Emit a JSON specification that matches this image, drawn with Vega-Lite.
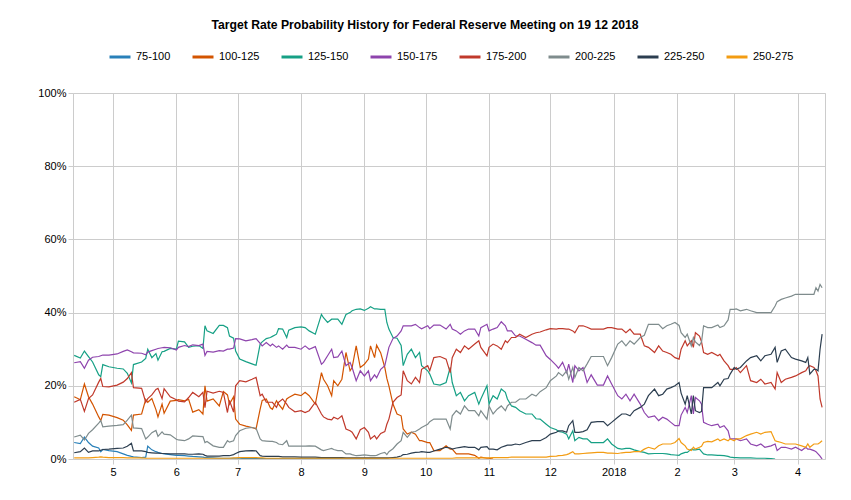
{
  "$schema": "https://vega.github.io/schema/vega-lite/v6.json",
  "width": 752,
  "height": 366,
  "autosize": {"type": "none"},
  "padding": {"left": 73, "top": 93, "right": 26, "bottom": 41},
  "background": "white",
  "title": {
    "text": "Target Rate Probability History for Federal Reserve Meeting on 19 12 2018",
    "font": "Liberation Sans",
    "fontSize": 12.2,
    "fontWeight": "bold",
    "color": "#000000",
    "anchor": "middle",
    "frame": "group",
    "dx": -24,
    "offset": 14
  },
  "data": {
    "values": [
      {"date":"2017-04-12","75-100":4.5,"100-125":17.0,"125-150":28.3,"150-175":26.3,"175-200":15.5,"200-225":6.0,"225-250":1.7,"250-275":0.3},
      {"date":"2017-04-15","75-100":4.2,"100-125":16.2,"125-150":27.6,"150-175":26.6,"175-200":16.3,"200-225":6.5,"225-250":2.0,"250-275":0.3},
      {"date":"2017-04-17","75-100":6.0,"100-125":20.5,"125-150":29.5,"150-175":24.8,"175-200":13.0,"200-225":5.2,"225-250":3.0,"250-275":0.3},
      {"date":"2017-04-19","75-100":4.5,"100-125":17.0,"125-150":28.0,"150-175":27.0,"175-200":16.5,"200-225":7.0,"225-250":1.8,"250-275":0.3},
      {"date":"2017-04-21","75-100":3.5,"100-125":15.0,"125-150":26.5,"150-175":27.8,"175-200":17.5,"200-225":8.0,"225-250":2.2,"250-275":0.4},
      {"date":"2017-04-24","75-100":3.0,"100-125":11.5,"125-150":23.0,"150-175":28.0,"175-200":21.0,"200-225":9.8,"225-250":2.2,"250-275":0.5},
      {"date":"2017-04-25","75-100":2.0,"100-125":10.5,"125-150":22.5,"150-175":28.2,"175-200":22.0,"200-225":10.5,"225-250":2.4,"250-275":0.6},
      {"date":"2017-04-26","75-100":2.6,"100-125":12.2,"125-150":25.8,"150-175":28.4,"175-200":19.8,"200-225":8.8,"225-250":2.6,"250-275":0.5},
      {"date":"2017-04-29","75-100":2.3,"100-125":12.0,"125-150":25.2,"150-175":28.4,"175-200":19.7,"200-225":9.0,"225-250":2.7,"250-275":0.4},
      {"date":"2017-05-03","75-100":2.0,"100-125":11.3,"125-150":24.8,"150-175":28.7,"175-200":20.2,"200-225":9.2,"225-250":2.9,"250-275":0.4},
      {"date":"2017-05-06","75-100":1.4,"100-125":10.6,"125-150":24.6,"150-175":29.4,"175-200":21.0,"200-225":9.4,"225-250":3.0,"250-275":0.4},
      {"date":"2017-05-08","75-100":1.0,"100-125":9.3,"125-150":23.4,"150-175":29.8,"175-200":22.0,"200-225":10.6,"225-250":3.5,"250-275":0.3},
      {"date":"2017-05-10","75-100":0.7,"100-125":7.8,"125-150":20.8,"150-175":29.3,"175-200":23.6,"200-225":12.0,"225-250":4.3,"250-275":0.3},
      {"date":"2017-05-11","75-100":0.6,"100-125":12.0,"125-150":25.8,"150-175":29.0,"175-200":19.5,"200-225":8.5,"225-250":2.2,"250-275":0.3},
      {"date":"2017-05-15","75-100":0.4,"100-125":12.3,"125-150":26.5,"150-175":28.9,"175-200":19.3,"200-225":8.3,"225-250":2.2,"250-275":0.3},
      {"date":"2017-05-17","75-100":0.5,"100-125":16.3,"125-150":27.5,"150-175":28.5,"175-200":15.5,"200-225":5.5,"225-250":2.0,"250-275":0.2},
      {"date":"2017-05-18","75-100":3.5,"100-125":15.5,"125-150":30.0,"150-175":29.2,"175-200":16.5,"200-225":6.0,"225-250":1.8,"250-275":0.2},
      {"date":"2017-05-20","75-100":2.5,"100-125":16.5,"125-150":27.7,"150-175":29.6,"175-200":17.5,"200-225":7.2,"225-250":1.7,"250-275":0.2},
      {"date":"2017-05-22","75-100":2.0,"100-125":13.5,"125-150":28.8,"150-175":30.0,"175-200":19.0,"200-225":7.8,"225-250":1.6,"250-275":0.2},
      {"date":"2017-05-23","75-100":1.8,"100-125":11.5,"125-150":27.0,"150-175":30.2,"175-200":19.3,"200-225":6.2,"225-250":1.6,"250-275":0.2},
      {"date":"2017-05-25","75-100":1.5,"100-125":15.0,"125-150":29.3,"150-175":30.4,"175-200":16.5,"200-225":7.4,"225-250":1.5,"250-275":0.2},
      {"date":"2017-05-26","75-100":1.4,"100-125":12.5,"125-150":29.4,"150-175":30.5,"175-200":19.2,"200-225":6.8,"225-250":1.5,"250-275":0.2},
      {"date":"2017-05-29","75-100":1.2,"100-125":15.8,"125-150":30.2,"150-175":30.4,"175-200":17.0,"200-225":6.6,"225-250":1.4,"250-275":0.2},
      {"date":"2017-06-01","75-100":1.0,"100-125":16.0,"125-150":30.0,"150-175":29.8,"175-200":16.2,"200-225":5.4,"225-250":1.4,"250-275":0.2},
      {"date":"2017-06-02","75-100":1.0,"100-125":16.2,"125-150":32.2,"150-175":30.5,"175-200":15.8,"200-225":5.2,"225-250":1.4,"250-275":0.2},
      {"date":"2017-06-05","75-100":0.9,"100-125":15.9,"125-150":32.0,"150-175":31.0,"175-200":15.6,"200-225":5.0,"225-250":1.4,"250-275":0.2},
      {"date":"2017-06-07","75-100":0.8,"100-125":16.3,"125-150":30.5,"150-175":30.7,"175-200":16.8,"200-225":5.5,"225-250":1.3,"250-275":0.2},
      {"date":"2017-06-09","75-100":0.7,"100-125":12.8,"125-150":30.8,"150-175":31.2,"175-200":18.2,"200-225":6.3,"225-250":1.3,"250-275":0.2},
      {"date":"2017-06-12","75-100":0.6,"100-125":13.5,"125-150":31.0,"150-175":31.0,"175-200":17.0,"200-225":6.2,"225-250":1.4,"250-275":0.2},
      {"date":"2017-06-14","75-100":0.5,"100-125":12.3,"125-150":30.2,"150-175":31.4,"175-200":18.2,"200-225":6.1,"225-250":1.3,"250-275":0.2},
      {"date":"2017-06-15","75-100":0.4,"100-125":20.0,"125-150":36.4,"150-175":28.3,"175-200":14.0,"200-225":4.5,"225-250":1.0,"250-275":0.2},
      {"date":"2017-06-16","75-100":0.4,"100-125":15.8,"125-150":35.0,"150-175":29.4,"175-200":18.5,"200-225":4.8,"225-250":0.8,"250-275":0.2},
      {"date":"2017-06-19","75-100":0.3,"100-125":16.4,"125-150":34.3,"150-175":29.2,"175-200":18.0,"200-225":3.6,"225-250":0.8,"250-275":0.2},
      {"date":"2017-06-22","75-100":0.2,"100-125":14.5,"125-150":36.5,"150-175":29.6,"175-200":18.5,"200-225":3.2,"225-250":0.8,"250-275":0.2},
      {"date":"2017-06-24","75-100":0.2,"100-125":18.4,"125-150":36.5,"150-175":29.5,"175-200":18.2,"200-225":3.2,"225-250":0.9,"250-275":0.2},
      {"date":"2017-06-26","75-100":0.2,"100-125":17.5,"125-150":35.9,"150-175":30.0,"175-200":12.7,"200-225":5.0,"225-250":0.9,"250-275":0.2},
      {"date":"2017-06-27","75-100":0.2,"100-125":15.0,"125-150":33.6,"150-175":30.0,"175-200":16.0,"200-225":4.6,"225-250":0.9,"250-275":0.2},
      {"date":"2017-06-29","75-100":0.2,"100-125":17.0,"125-150":33.0,"150-175":30.3,"175-200":12.8,"200-225":5.0,"225-250":1.2,"250-275":0.3},
      {"date":"2017-06-30","75-100":0.2,"100-125":10.9,"125-150":29.5,"150-175":32.9,"175-200":20.0,"200-225":6.4,"225-250":1.5,"250-275":0.3},
      {"date":"2017-07-02","75-100":0.2,"100-125":9.5,"125-150":27.3,"150-175":32.8,"175-200":21.4,"200-225":7.7,"225-250":2.0,"250-275":0.4},
      {"date":"2017-07-05","75-100":0.1,"100-125":9.0,"125-150":26.6,"150-175":32.3,"175-200":21.1,"200-225":8.4,"225-250":2.2,"250-275":0.4},
      {"date":"2017-07-08","75-100":0.1,"100-125":8.6,"125-150":26.0,"150-175":32.6,"175-200":21.8,"200-225":8.6,"225-250":2.3,"250-275":0.4},
      {"date":"2017-07-10","75-100":0.1,"100-125":8.2,"125-150":25.6,"150-175":32.9,"175-200":22.3,"200-225":8.4,"225-250":2.2,"250-275":0.4},
      {"date":"2017-07-12","75-100":0.1,"100-125":13.6,"125-150":31.4,"150-175":31.6,"175-200":17.3,"200-225":5.5,"225-250":0.9,"250-275":0.3},
      {"date":"2017-07-13","75-100":0.1,"100-125":16.0,"125-150":32.0,"150-175":30.9,"175-200":17.7,"200-225":5.0,"225-250":0.8,"250-275":0.3},
      {"date":"2017-07-15","75-100":0.1,"100-125":16.4,"125-150":32.9,"150-175":31.8,"175-200":15.5,"200-225":4.9,"225-250":0.7,"250-275":0.2},
      {"date":"2017-07-17","75-100":0.1,"100-125":14.0,"125-150":33.2,"150-175":30.9,"175-200":15.5,"200-225":4.8,"225-250":0.7,"250-275":0.2},
      {"date":"2017-07-18","75-100":0.1,"100-125":13.6,"125-150":33.5,"150-175":31.4,"175-200":15.5,"200-225":4.8,"225-250":0.7,"250-275":0.2},
      {"date":"2017-07-20","75-100":0.1,"100-125":15.9,"125-150":34.1,"150-175":30.5,"175-200":14.1,"200-225":4.5,"225-250":0.7,"250-275":0.2},
      {"date":"2017-07-21","75-100":0.1,"100-125":15.0,"125-150":35.6,"150-175":30.9,"175-200":15.5,"200-225":4.1,"225-250":0.7,"250-275":0.2},
      {"date":"2017-07-23","75-100":0.1,"100-125":13.6,"125-150":35.5,"150-175":30.0,"175-200":16.4,"200-225":3.9,"225-250":0.6,"250-275":0.2},
      {"date":"2017-07-25","75-100":0.1,"100-125":16.4,"125-150":33.2,"150-175":31.1,"175-200":15.0,"200-225":5.0,"225-250":0.6,"250-275":0.2},
      {"date":"2017-07-26","75-100":0.1,"100-125":16.8,"125-150":35.2,"150-175":30.5,"175-200":14.1,"200-225":3.5,"225-250":0.6,"250-275":0.2},
      {"date":"2017-07-29","75-100":0.1,"100-125":17.7,"125-150":35.9,"150-175":30.5,"175-200":12.9,"200-225":3.5,"225-250":0.6,"250-275":0.2},
      {"date":"2017-08-01","75-100":0.1,"100-125":17.3,"125-150":36.1,"150-175":30.0,"175-200":13.2,"200-225":3.5,"225-250":0.5,"250-275":0.2},
      {"date":"2017-08-03","75-100":0.1,"100-125":18.2,"125-150":35.9,"150-175":30.9,"175-200":12.7,"200-225":3.5,"225-250":0.5,"250-275":0.2},
      {"date":"2017-08-05","75-100":0.1,"100-125":17.3,"125-150":35.0,"150-175":30.0,"175-200":13.2,"200-225":3.6,"225-250":0.5,"250-275":0.2},
      {"date":"2017-08-08","75-100":0.1,"100-125":15.0,"125-150":34.1,"150-175":30.7,"175-200":15.5,"200-225":3.5,"225-250":0.5,"250-275":0.2},
      {"date":"2017-08-11","75-100":0.1,"100-125":23.6,"125-150":39.5,"150-175":25.9,"175-200":12.3,"200-225":2.5,"225-250":0.4,"250-275":0.2},
      {"date":"2017-08-12","75-100":0.1,"100-125":21.8,"125-150":38.6,"150-175":26.4,"175-200":11.5,"200-225":2.3,"225-250":0.4,"250-275":0.2},
      {"date":"2017-08-14","75-100":0.1,"100-125":20.0,"125-150":37.3,"150-175":28.2,"175-200":10.9,"200-225":2.6,"225-250":0.4,"250-275":0.2},
      {"date":"2017-08-16","75-100":0.1,"100-125":17.3,"125-150":38.2,"150-175":30.0,"175-200":10.7,"200-225":2.9,"225-250":0.4,"250-275":0.2},
      {"date":"2017-08-17","75-100":0.1,"100-125":21.4,"125-150":38.2,"150-175":27.7,"175-200":11.4,"200-225":2.6,"225-250":0.4,"250-275":0.2},
      {"date":"2017-08-19","75-100":0.1,"100-125":20.0,"125-150":38.2,"150-175":27.9,"175-200":10.9,"200-225":2.3,"225-250":0.4,"250-275":0.2},
      {"date":"2017-08-21","75-100":0.1,"100-125":21.8,"125-150":36.8,"150-175":29.5,"175-200":11.8,"200-225":2.3,"225-250":0.4,"250-275":0.2},
      {"date":"2017-08-23","75-100":0.1,"100-125":29.1,"125-150":39.5,"150-175":25.5,"175-200":8.2,"200-225":1.4,"225-250":0.3,"250-275":0.2},
      {"date":"2017-08-25","75-100":0.1,"100-125":24.1,"125-150":40.0,"150-175":26.4,"175-200":7.7,"200-225":1.4,"225-250":0.3,"250-275":0.2},
      {"date":"2017-08-26","75-100":0.1,"100-125":25.0,"125-150":40.5,"150-175":25.0,"175-200":7.3,"200-225":1.2,"225-250":0.3,"250-275":0.2},
      {"date":"2017-08-28","75-100":0.1,"100-125":30.9,"125-150":40.9,"150-175":21.4,"175-200":5.5,"200-225":0.9,"225-250":0.3,"250-275":0.2},
      {"date":"2017-08-30","75-100":0.1,"100-125":25.0,"125-150":41.0,"150-175":24.1,"175-200":8.0,"200-225":1.0,"225-250":0.3,"250-275":0.2},
      {"date":"2017-09-01","75-100":0.1,"100-125":25.9,"125-150":40.6,"150-175":22.7,"175-200":8.6,"200-225":1.1,"225-250":0.3,"250-275":0.2},
      {"date":"2017-09-03","75-100":0.1,"100-125":27.3,"125-150":41.2,"150-175":24.1,"175-200":7.3,"200-225":1.0,"225-250":0.3,"250-275":0.2},
      {"date":"2017-09-04","75-100":0.1,"100-125":30.9,"125-150":41.6,"150-175":21.4,"175-200":5.5,"200-225":0.9,"225-250":0.3,"250-275":0.2},
      {"date":"2017-09-06","75-100":0.1,"100-125":27.7,"125-150":41.0,"150-175":23.0,"175-200":6.4,"200-225":0.9,"225-250":0.3,"250-275":0.2},
      {"date":"2017-09-07","75-100":0.1,"100-125":31.1,"125-150":41.0,"150-175":22.2,"175-200":5.5,"200-225":1.0,"225-250":0.3,"250-275":0.2},
      {"date":"2017-09-09","75-100":0.1,"100-125":29.0,"125-150":40.9,"150-175":24.5,"175-200":7.0,"200-225":1.5,"225-250":0.3,"250-275":0.2},
      {"date":"2017-09-11","75-100":0.1,"100-125":25.0,"125-150":40.9,"150-175":25.5,"175-200":7.5,"200-225":1.8,"225-250":0.3,"250-275":0.2},
      {"date":"2017-09-12","75-100":0.1,"100-125":22.0,"125-150":37.3,"150-175":28.0,"175-200":9.5,"200-225":1.2,"225-250":0.3,"250-275":0.2},
      {"date":"2017-09-13","75-100":0.0,"100-125":20.0,"125-150":35.5,"150-175":30.5,"175-200":10.9,"200-225":2.0,"225-250":0.3,"250-275":0.2},
      {"date":"2017-09-15","100-125":15.0,"125-150":33.2,"150-175":32.9,"175-200":15.5,"200-225":2.8,"225-250":0.4,"250-275":0.2},
      {"date":"2017-09-17","100-125":12.3,"125-150":33.0,"150-175":33.6,"175-200":16.8,"200-225":4.1,"225-250":0.5,"250-275":0.2},
      {"date":"2017-09-19","100-125":11.8,"125-150":31.0,"150-175":35.0,"175-200":17.5,"200-225":5.0,"225-250":0.8,"250-275":0.2},
      {"date":"2017-09-20","100-125":8.2,"125-150":25.5,"150-175":36.4,"175-200":24.1,"200-225":7.3,"225-250":1.2,"250-275":0.2},
      {"date":"2017-09-22","100-125":6.8,"125-150":28.6,"150-175":36.4,"175-200":21.4,"200-225":5.9,"225-250":1.3,"250-275":0.2},
      {"date":"2017-09-24","100-125":7.3,"125-150":30.0,"150-175":36.4,"175-200":20.5,"200-225":7.3,"225-250":1.6,"250-275":0.2},
      {"date":"2017-09-26","100-125":6.8,"125-150":27.7,"150-175":36.8,"175-200":22.3,"200-225":7.5,"225-250":1.8,"250-275":0.2},
      {"date":"2017-09-28","100-125":5.0,"125-150":29.1,"150-175":35.9,"175-200":20.9,"200-225":8.2,"225-250":1.9,"250-275":0.2},
      {"date":"2017-09-29","100-125":5.0,"125-150":25.5,"150-175":35.6,"175-200":24.5,"200-225":8.6,"225-250":2.0,"250-275":0.2},
      {"date":"2017-10-02","100-125":4.5,"125-150":24.1,"150-175":36.4,"175-200":25.5,"200-225":9.5,"225-250":1.8,"250-275":0.2},
      {"date":"2017-10-03","100-125":4.5,"125-150":23.2,"150-175":35.6,"175-200":24.1,"200-225":10.2,"225-250":1.8,"250-275":0.2},
      {"date":"2017-10-05","100-125":2.3,"125-150":20.5,"150-175":36.6,"175-200":27.7,"200-225":10.9,"225-250":2.2,"250-275":0.2},
      {"date":"2017-10-08","100-125":2.3,"125-150":20.2,"150-175":36.6,"175-200":28.0,"200-225":10.9,"225-250":2.7,"250-275":0.2},
      {"date":"2017-10-11","100-125":3.6,"125-150":20.9,"150-175":35.5,"175-200":27.3,"200-225":10.9,"225-250":3.2,"250-275":0.2},
      {"date":"2017-10-13","100-125":2.7,"125-150":25.0,"150-175":36.8,"175-200":23.6,"200-225":8.2,"225-250":3.0,"250-275":0.2},
      {"date":"2017-10-14","100-125":2.7,"125-150":20.9,"150-175":35.5,"175-200":27.7,"200-225":11.8,"225-250":2.7,"250-275":0.2},
      {"date":"2017-10-16","100-125":1.4,"125-150":17.3,"150-175":35.0,"175-200":30.0,"200-225":13.2,"225-250":3.0,"250-275":0.3},
      {"date":"2017-10-18","100-125":1.4,"125-150":18.2,"150-175":34.1,"175-200":29.1,"200-225":12.3,"225-250":3.2,"250-275":0.3},
      {"date":"2017-10-20","100-125":1.4,"125-150":15.9,"150-175":35.0,"175-200":30.9,"200-225":14.5,"225-250":3.4,"250-275":0.3},
      {"date":"2017-10-22","100-125":1.4,"125-150":17.3,"150-175":35.5,"175-200":30.0,"200-225":13.2,"225-250":3.2,"250-275":0.3},
      {"date":"2017-10-25","100-125":1.0,"125-150":18.2,"150-175":35.5,"175-200":31.4,"200-225":13.2,"225-250":3.2,"250-275":0.3},
      {"date":"2017-10-27","100-125":0.2,"125-150":15.0,"150-175":33.6,"175-200":32.3,"200-225":11.8,"225-250":2.5,"250-275":0.3},
      {"date":"2017-10-28","100-125":0.5,"125-150":16.4,"150-175":35.9,"175-200":30.5,"200-225":13.2,"225-250":3.2,"250-275":0.3},
      {"date":"2017-10-31","100-125":0.2,"125-150":20.0,"150-175":36.8,"175-200":28.2,"200-225":10.9,"225-250":3.4,"250-275":0.3},
      {"date":"2017-11-01","100-125":0.2,"125-150":15.0,"150-175":35.0,"175-200":30.5,"200-225":14.5,"225-250":2.7,"250-275":0.3},
      {"date":"2017-11-03","100-125":0.0,"125-150":17.3,"150-175":35.5,"175-200":31.4,"200-225":12.3,"225-250":2.7,"250-275":0.4},
      {"date":"2017-11-05","125-150":16.4,"150-175":35.9,"175-200":30.9,"200-225":13.6,"225-250":2.5,"250-275":0.4},
      {"date":"2017-11-07","125-150":19.1,"150-175":37.5,"175-200":30.0,"200-225":14.5,"225-250":3.2,"250-275":0.4},
      {"date":"2017-11-09","125-150":18.2,"150-175":36.4,"175-200":32.3,"200-225":13.2,"225-250":3.6,"250-275":0.4},
      {"date":"2017-11-10","125-150":16.4,"150-175":35.0,"175-200":31.8,"200-225":14.5,"225-250":3.8,"250-275":0.4},
      {"date":"2017-11-12","125-150":14.5,"150-175":35.0,"175-200":33.2,"200-225":15.5,"225-250":3.8,"250-275":0.5},
      {"date":"2017-11-14","125-150":14.1,"150-175":33.6,"175-200":33.2,"200-225":15.5,"225-250":4.1,"250-275":0.5},
      {"date":"2017-11-16","125-150":13.2,"150-175":33.6,"175-200":34.1,"200-225":16.4,"225-250":3.9,"250-275":0.5},
      {"date":"2017-11-19","125-150":12.3,"150-175":32.7,"175-200":33.2,"200-225":16.4,"225-250":4.5,"250-275":0.5},
      {"date":"2017-11-22","125-150":12.3,"150-175":31.8,"175-200":34.1,"200-225":17.7,"225-250":5.0,"250-275":0.5},
      {"date":"2017-11-24","125-150":11.0,"150-175":31.1,"175-200":34.5,"200-225":17.2,"225-250":5.0,"250-275":0.5},
      {"date":"2017-11-26","125-150":10.9,"150-175":31.1,"175-200":34.7,"200-225":18.4,"225-250":5.0,"250-275":0.5},
      {"date":"2017-11-29","125-150":9.5,"150-175":28.2,"175-200":35.3,"200-225":19.5,"225-250":5.9,"250-275":0.5},
      {"date":"2017-12-01","125-150":8.6,"150-175":27.2,"175-200":35.6,"200-225":21.4,"225-250":6.8,"250-275":0.7},
      {"date":"2017-12-04","125-150":8.0,"150-175":25.5,"175-200":35.5,"200-225":22.7,"225-250":7.3,"250-275":0.8},
      {"date":"2017-12-05","125-150":7.5,"150-175":24.8,"175-200":35.6,"200-225":23.6,"225-250":7.7,"250-275":0.9},
      {"date":"2017-12-07","125-150":7.3,"150-175":26.4,"175-200":35.6,"200-225":22.7,"225-250":7.7,"250-275":1.0},
      {"date":"2017-12-09","125-150":6.8,"150-175":23.6,"175-200":35.5,"200-225":24.1,"225-250":7.3,"250-275":1.2},
      {"date":"2017-12-10","125-150":5.5,"150-175":25.9,"175-200":35.5,"200-225":21.8,"225-250":9.1,"250-275":1.4},
      {"date":"2017-12-12","125-150":7.7,"150-175":20.9,"175-200":35.0,"200-225":25.0,"225-250":10.5,"250-275":2.0},
      {"date":"2017-12-13","125-150":5.0,"150-175":25.5,"175-200":34.5,"200-225":22.3,"225-250":7.3,"250-275":1.4},
      {"date":"2017-12-15","125-150":5.9,"150-175":24.1,"175-200":36.4,"200-225":25.0,"225-250":7.3,"250-275":1.4},
      {"date":"2017-12-17","125-150":5.5,"150-175":25.0,"175-200":36.4,"200-225":24.1,"225-250":7.5,"250-275":1.5},
      {"date":"2017-12-19","125-150":5.5,"150-175":20.9,"175-200":36.0,"200-225":26.0,"225-250":8.0,"250-275":1.6},
      {"date":"2017-12-21","125-150":4.5,"150-175":23.0,"175-200":35.5,"200-225":28.0,"225-250":10.0,"250-275":1.7},
      {"date":"2017-12-24","125-150":4.5,"150-175":20.2,"175-200":35.5,"200-225":28.0,"225-250":10.2,"250-275":1.8},
      {"date":"2017-12-27","125-150":4.5,"150-175":20.2,"175-200":35.5,"200-225":28.0,"225-250":10.2,"250-275":1.8},
      {"date":"2017-12-29","125-150":5.5,"150-175":22.7,"175-200":35.9,"200-225":25.5,"225-250":9.1,"250-275":1.6},
      {"date":"2017-12-31","125-150":4.1,"150-175":20.5,"175-200":35.9,"200-225":27.7,"225-250":10.0,"250-275":1.6},
      {"date":"2018-01-03","125-150":2.9,"150-175":17.3,"175-200":35.5,"200-225":31.4,"225-250":11.4,"250-275":1.5},
      {"date":"2018-01-05","125-150":2.7,"150-175":16.4,"175-200":35.5,"200-225":32.3,"225-250":12.3,"250-275":1.7},
      {"date":"2018-01-07","125-150":2.9,"150-175":17.7,"175-200":34.5,"200-225":30.9,"225-250":12.3,"250-275":1.8},
      {"date":"2018-01-09","125-150":2.9,"150-175":15.9,"175-200":35.5,"200-225":32.3,"225-250":11.8,"250-275":1.8},
      {"date":"2018-01-11","125-150":2.5,"150-175":17.7,"175-200":34.1,"200-225":31.4,"225-250":13.2,"250-275":2.0},
      {"date":"2018-01-14","125-150":2.0,"150-175":15.0,"175-200":34.1,"200-225":33.2,"225-250":14.1,"250-275":2.0},
      {"date":"2018-01-16","125-150":1.8,"150-175":12.7,"175-200":30.9,"200-225":33.8,"225-250":15.0,"250-275":2.7},
      {"date":"2018-01-18","125-150":1.4,"150-175":11.4,"175-200":30.5,"200-225":36.8,"225-250":17.3,"250-275":3.2},
      {"date":"2018-01-21","125-150":1.5,"150-175":11.8,"175-200":29.1,"200-225":36.8,"225-250":19.1,"250-275":2.7},
      {"date":"2018-01-23","125-150":1.5,"150-175":10.5,"175-200":30.9,"200-225":36.8,"225-250":17.3,"250-275":3.6},
      {"date":"2018-01-25","125-150":1.5,"150-175":11.4,"175-200":29.5,"200-225":35.6,"225-250":17.7,"250-275":4.1},
      {"date":"2018-01-27","125-150":1.4,"150-175":10.9,"175-200":29.1,"200-225":36.4,"225-250":19.1,"250-275":4.1},
      {"date":"2018-01-29","125-150":1.2,"150-175":10.0,"175-200":28.6,"200-225":36.8,"225-250":19.5,"250-275":4.1},
      {"date":"2018-01-31","125-150":1.1,"150-175":9.1,"175-200":27.7,"200-225":37.3,"225-250":20.0,"250-275":4.5},
      {"date":"2018-02-02","125-150":1.0,"150-175":9.1,"175-200":27.3,"200-225":36.5,"225-250":20.9,"250-275":5.6},
      {"date":"2018-02-03","125-150":1.4,"150-175":12.0,"175-200":30.0,"200-225":34.5,"225-250":18.0,"250-275":4.5},
      {"date":"2018-02-05","125-150":1.8,"150-175":14.1,"175-200":32.3,"200-225":33.2,"225-250":15.0,"250-275":3.6},
      {"date":"2018-02-06","125-150":1.8,"150-175":12.7,"175-200":30.9,"200-225":34.1,"225-250":17.3,"250-275":2.7},
      {"date":"2018-02-08","125-150":2.7,"150-175":17.3,"175-200":32.3,"200-225":30.9,"225-250":12.3,"250-275":2.3},
      {"date":"2018-02-09","125-150":2.5,"150-175":12.3,"175-200":30.5,"200-225":33.2,"225-250":17.3,"250-275":3.2},
      {"date":"2018-02-10","125-150":2.5,"150-175":16.8,"175-200":34.5,"200-225":32.0,"225-250":13.2,"250-275":2.7},
      {"date":"2018-02-12","125-150":2.7,"150-175":15.9,"175-200":33.6,"200-225":31.0,"225-250":12.7,"250-275":3.2},
      {"date":"2018-02-13","125-150":2.0,"150-175":15.0,"175-200":32.0,"200-225":32.0,"225-250":13.0,"250-275":3.5},
      {"date":"2018-02-14","125-150":1.4,"150-175":10.0,"175-200":29.1,"200-225":36.4,"225-250":19.5,"250-275":4.5},
      {"date":"2018-02-16","125-150":1.1,"150-175":9.5,"175-200":28.6,"200-225":35.9,"225-250":19.5,"250-275":4.8},
      {"date":"2018-02-18","125-150":1.1,"150-175":9.1,"175-200":29.1,"200-225":35.9,"225-250":19.5,"250-275":4.7},
      {"date":"2018-02-21","125-150":1.0,"150-175":9.5,"175-200":28.2,"200-225":36.6,"225-250":20.9,"250-275":5.5},
      {"date":"2018-02-22","125-150":1.0,"150-175":8.6,"175-200":28.6,"200-225":35.9,"225-250":20.0,"250-275":5.0},
      {"date":"2018-02-24","125-150":0.9,"150-175":9.1,"175-200":26.8,"200-225":36.4,"225-250":21.8,"250-275":5.5},
      {"date":"2018-02-26","125-150":0.7,"150-175":7.7,"175-200":25.5,"200-225":38.0,"225-250":22.0,"250-275":5.0},
      {"date":"2018-02-27","125-150":0.5,"150-175":5.5,"175-200":24.5,"200-225":40.9,"225-250":23.2,"250-275":5.5},
      {"date":"2018-03-01","125-150":0.4,"150-175":5.5,"175-200":24.5,"200-225":40.9,"225-250":25.0,"250-275":5.0},
      {"date":"2018-03-02","125-150":0.4,"150-175":5.5,"175-200":25.0,"200-225":41.0,"225-250":24.5,"250-275":5.5},
      {"date":"2018-03-04","125-150":0.3,"150-175":5.0,"175-200":23.6,"200-225":40.5,"225-250":25.0,"250-275":5.5},
      {"date":"2018-03-07","125-150":0.3,"150-175":5.5,"175-200":25.5,"200-225":40.9,"225-250":26.8,"250-275":6.4},
      {"date":"2018-03-09","125-150":0.3,"150-175":4.1,"175-200":21.4,"200-225":40.5,"225-250":27.7,"250-275":6.8},
      {"date":"2018-03-12","125-150":0.2,"150-175":3.6,"175-200":20.9,"200-225":40.0,"225-250":28.2,"250-275":7.3},
      {"date":"2018-03-14","125-150":0.2,"150-175":4.1,"175-200":21.8,"200-225":40.0,"225-250":26.8,"250-275":6.8},
      {"date":"2018-03-16","125-150":0.2,"150-175":3.2,"175-200":20.5,"200-225":40.0,"225-250":28.2,"250-275":7.3},
      {"date":"2018-03-19","125-150":0.1,"150-175":3.6,"175-200":20.9,"200-225":40.0,"225-250":28.6,"250-275":7.5},
      {"date":"2018-03-21","125-150":0.0,"150-175":4.1,"175-200":19.1,"200-225":41.8,"225-250":30.5,"250-275":5.0},
      {"date":"2018-03-22","150-175":2.3,"175-200":23.6,"200-225":43.0,"225-250":26.4,"250-275":4.8},
      {"date":"2018-03-24","150-175":3.2,"175-200":20.9,"200-225":43.6,"225-250":29.5,"250-275":4.5},
      {"date":"2018-03-26","150-175":3.2,"175-200":21.8,"200-225":44.0,"225-250":30.0,"250-275":4.1},
      {"date":"2018-03-29","150-175":2.7,"175-200":22.3,"200-225":44.5,"225-250":27.7,"250-275":4.1},
      {"date":"2018-03-31","150-175":3.2,"175-200":22.7,"200-225":45.0,"225-250":27.3,"250-275":4.1},
      {"date":"2018-04-03","150-175":2.3,"175-200":23.6,"200-225":45.0,"225-250":26.8,"250-275":3.6},
      {"date":"2018-04-05","150-175":3.2,"175-200":24.1,"200-225":45.0,"225-250":26.4,"250-275":3.2},
      {"date":"2018-04-06","150-175":2.7,"175-200":25.0,"200-225":45.0,"225-250":27.7,"250-275":4.1},
      {"date":"2018-04-07","150-175":2.7,"175-200":25.5,"200-225":45.0,"225-250":23.2,"250-275":3.2},
      {"date":"2018-04-09","150-175":2.3,"175-200":25.0,"200-225":45.0,"225-250":24.5,"250-275":4.1},
      {"date":"2018-04-10","150-175":2.0,"175-200":24.1,"200-225":46.8,"225-250":24.5,"250-275":4.1},
      {"date":"2018-04-11","150-175":1.4,"175-200":22.7,"200-225":45.9,"225-250":24.1,"250-275":4.1},
      {"date":"2018-04-12","150-175":0.8,"175-200":16.4,"200-225":47.7,"225-250":30.0,"250-275":4.5},
      {"date":"2018-04-13","150-175":0.0,"175-200":14.1,"200-225":46.8,"225-250":34.1,"250-275":5.0}
    ]
  },
  "transform": [
    {"fold": ["75-100","100-125","125-150","150-175","175-200","200-225","225-250","250-275"], "as": ["series","value"]},
    {"filter": "isValid(datum.value)"}
  ],
  "mark": {"type": "line", "strokeWidth": 1.2, "clip": true},
  "encoding": {
    "x": {
      "field": "date",
      "type": "temporal",
      "scale": {
        "type": "utc",
        "domain": [
          {"year": 2017, "month": 4, "date": 11, "hours": 10, "utc": true},
          {"year": 2018, "month": 4, "date": 14, "hours": 10, "utc": true}
        ]
      },
      "axis": {
        "title": null,
        "tickCount": {"interval": "month", "step": 1},
        "labelExpr": "utcmonth(datum.value) == 0 ? utcFormat(datum.value, '%Y') : utcFormat(datum.value, '%-m')",
        "grid": true,
        "gridColor": "#cccccc",
        "gridWidth": 1,
        "domain": false,
        "ticks": true,
        "tickColor": "#cccccc",
        "tickSize": 5,
        "labelFont": "Liberation Sans",
        "labelFontSize": 11,
        "labelColor": "#000000",
        "labelPadding": 2,
        "labelFlush": false,
        "labelOverlap": false
      }
    },
    "y": {
      "field": "value",
      "type": "quantitative",
      "scale": {"domain": [0, 100], "nice": false, "zero": true},
      "axis": {
        "title": null,
        "values": [0, 20, 40, 60, 80, 100],
        "labelExpr": "datum.value + '%'",
        "grid": true,
        "gridColor": "#cccccc",
        "domain": false,
        "ticks": true,
        "tickColor": "#cccccc",
        "tickSize": 5,
        "labelFont": "Liberation Sans",
        "labelFontSize": 11,
        "labelColor": "#000000",
        "labelPadding": 2
      }
    },
    "color": {
      "field": "series",
      "type": "nominal",
      "scale": {
        "domain": ["75-100","100-125","125-150","150-175","175-200","200-225","225-250","250-275"],
        "range": ["#2980b9","#d35400","#16a085","#8e44ad","#c0392b","#7f8c8d","#2c3e50","#f39c12"]
      },
      "legend": {
        "title": null,
        "orient": "none",
        "legendX": 35,
        "legendY": -48,
        "direction": "horizontal",
        "columns": 8,
        "padding": 0,
        "symbolType": "stroke",
        "symbolSize": 441,
        "symbolStrokeWidth": 3,
        "labelFont": "Liberation Sans",
        "labelFontSize": 11,
        "labelColor": "#000000",
        "labelOffset": 4,
        "columnPadding": 15,
        "gridAlign": "none"
      }
    }
  },
  "config": {
    "view": {"stroke": "#cccccc", "strokeWidth": 1}
  }
}
